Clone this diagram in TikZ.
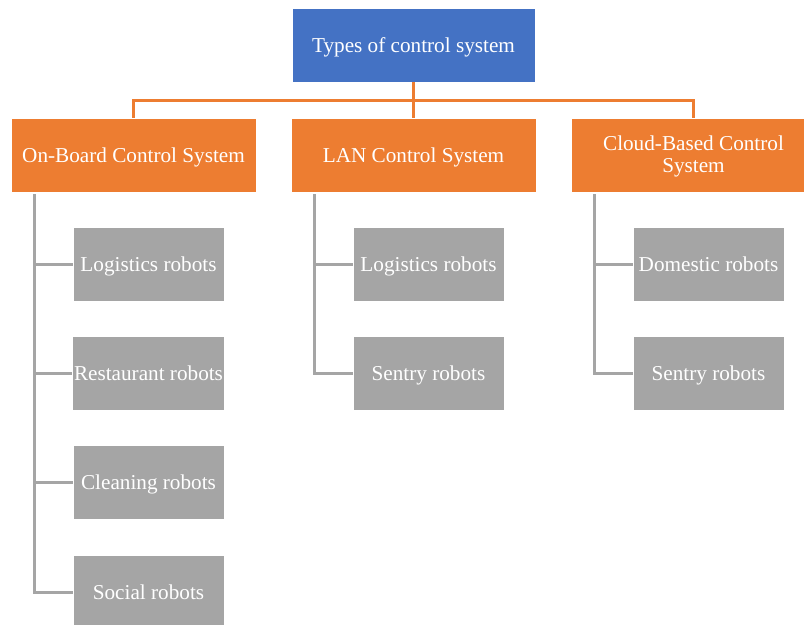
\documentclass[tikz,border=0pt]{standalone}
\usepackage{fontspec}
\setmainfont{Liberation Serif}
\usetikzlibrary{calc}
\definecolor{headblue}{HTML}{4472C4}
\definecolor{sysorange}{HTML}{ED7D31}
\definecolor{robotgray}{HTML}{A5A5A5}

\begin{document}
\begin{tikzpicture}[x=0.75pt,y=-0.75pt,
  box/.style={rectangle,draw=white,line width=0.6pt,text=white,inner sep=1pt,text height=11pt,text depth=0pt,font=\fontsize{15.9}{16.5}\selectfont},
  head/.style={box,fill=headblue,minimum width=182.25pt,minimum height=55.5pt},
  sys/.style={box,fill=sysorange,minimum width=183.75pt,minimum height=55.5pt},
  robot/.style={box,fill=robotgray,minimum width=113.25pt,minimum height=55.5pt},
  orangeline/.style={draw=sysorange,line width=2.25pt},
  grayline/.style={draw=robotgray,line width=2.25pt}]

  \useasboundingbox (0,0) rectangle (804,625);
  \clip (0,0) rectangle (804,625);

  \node[head] (top) at (413.5,45) {Types of control system};

  \node[sys] (ob)  at (133.5,155) {On-Board Control System};
  \node[sys] (lan) at (413.5,155) {LAN Control System};
  \node[sys,text height=25.5pt] (cb) at (693.5,155)
    {\begin{tabular}[b]{@{}c@{}}Cloud-Based Control\\System\end{tabular}};

  \node[robot] (ob1) at (148.5,264)   {Logistics robots};
  \node[robot] (ob2) at (148.5,373)   {Restaurant robots};
  \node[robot] (ob3) at (148.5,482.5) {Cleaning robots};
  \node[robot] (ob4) at (148.5,592)   {Social robots};

  \node[robot] (lan1) at (428.5,264) {Logistics robots};
  \node[robot] (lan2) at (428.5,373) {Sentry robots};

  \node[robot] (cb1) at (708.5,264) {Domestic robots};
  \node[robot] (cb2) at (708.5,373) {Sentry robots};

  % bus under the head box
  \coordinate (bus) at (413.5,100);
  \draw[orangeline] (top.south) -- (bus);
  \draw[orangeline] (bus) -| (ob.north);
  \draw[orangeline] (bus) -- (lan.north);
  \draw[orangeline] (bus) -| (cb.north);

  % trunks down the left side of each column
  \coordinate (obt)  at ($(ob.south west)+(24,2)$);
  \coordinate (lant) at ($(lan.south west)+(24,2)$);
  \coordinate (cbt)  at ($(cb.south west)+(24,2)$);

  \foreach \n in {ob1,ob2,ob3,ob4}
    \draw[grayline] (obt) |- (\n.west);
  \foreach \n in {lan1,lan2}
    \draw[grayline] (lant) |- (\n.west);
  \foreach \n in {cb1,cb2}
    \draw[grayline] (cbt) |- (\n.west);
\end{tikzpicture}
\end{document}
